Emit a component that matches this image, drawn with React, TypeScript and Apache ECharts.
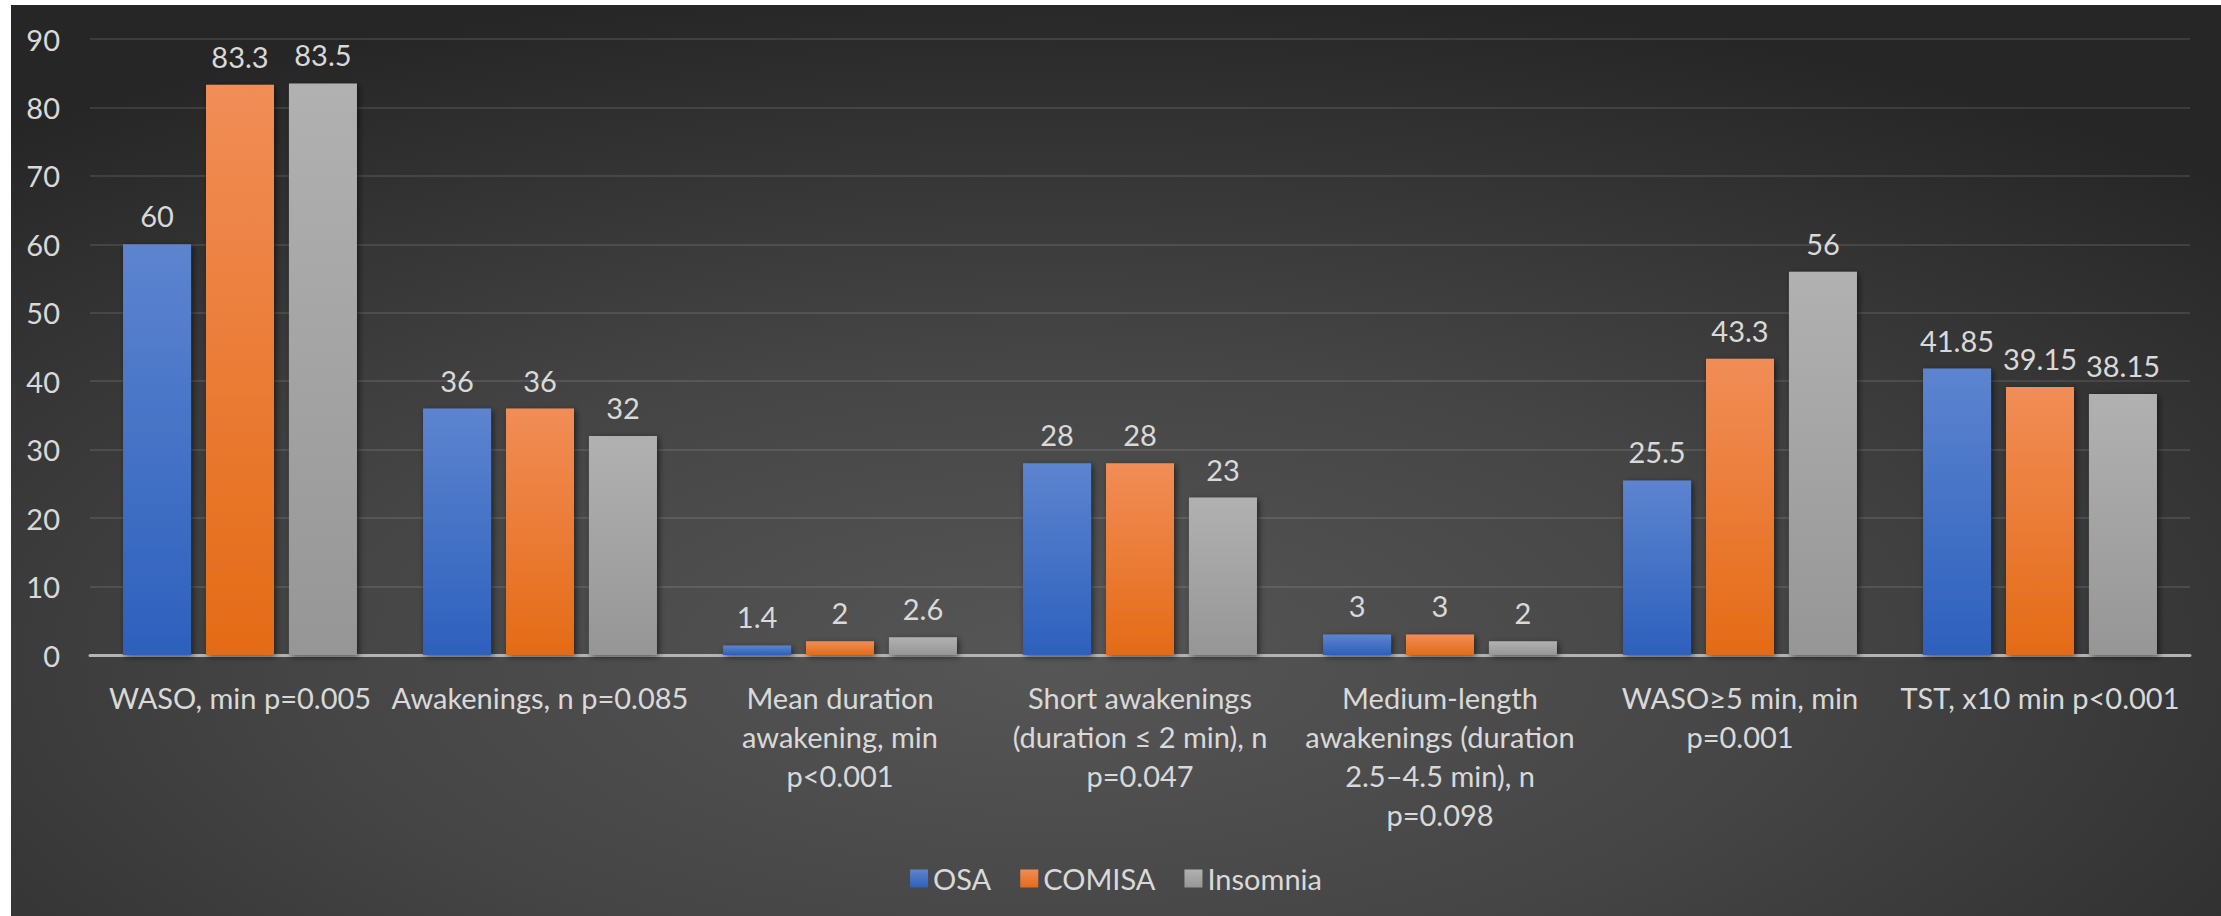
import React, { useEffect, useRef } from "react";
import * as echarts from "echarts";

// Sleep fragmentation measures by group
const categories: string[] = [
  "WASO, min p=0.005",
  "Awakenings, n p=0.085",
  "Mean duration\nawakening, min\np<0.001",
  "Short awakenings\n(duration ≤ 2 min), n\np=0.047",
  "Medium-length\nawakenings (duration\n2.5–4.5 min), n\np=0.098",
  "WASO≥5 min, min\np=0.001",
  "TST, x10 min p<0.001",
];

const osaValues: number[] = [60, 36, 1.4, 28, 3, 25.5, 41.85];
const comisaValues: number[] = [83.3, 36, 2, 28, 3, 43.3, 39.15];
const insomniaValues: number[] = [83.5, 32, 2.6, 23, 2, 56, 38.15];

const seriesNames: string[] = ["OSA", "COMISA", "Insomnia"];

const FONT = "Lato, 'Liberation Sans', sans-serif";
const TEXT_COLOR = "#d9d9d9";
const FONT_SIZE = 29;

const vGrad = (top: string, bottom: string) =>
  new echarts.graphic.LinearGradient(0, 0, 0, 1, [
    { offset: 0, color: top },
    { offset: 1, color: bottom },
  ]);

export default function App() {
  const ref = useRef<HTMLDivElement>(null);

  useEffect(() => {
    if (!ref.current) return;
    const chart = echarts.init(ref.current, null, { renderer: "svg" });

    const barStyle = (top: string, bottom: string) => ({
      color: vGrad(top, bottom),
      shadowBlur: 6,
      shadowColor: "rgba(0,0,0,0.55)",
      shadowOffsetX: 2,
      shadowOffsetY: 2,
    });

    const valueLabel = {
      show: true,
      position: "top" as const,
      distance: 14,
      color: TEXT_COLOR,
      fontFamily: FONT,
      fontSize: FONT_SIZE,
    };

    const makeSeries = (name: string, data: number[], top: string, bottom: string) => ({
      name,
      type: "bar" as const,
      data,
      barWidth: 68,
      barGap: "22%",
      itemStyle: barStyle(top, bottom),
      label: valueLabel,
    });

    chart.setOption({
      animation: false,
      backgroundColor: new echarts.graphic.RadialGradient(0.47, 0.72, 0.75, [
        { offset: 0, color: "#565656" },
        { offset: 0.45, color: "#454545" },
        { offset: 1, color: "#262626" },
      ]),
      textStyle: { fontFamily: FONT },
      grid: { left: 79, right: 31, top: 34, bottom: 261, containLabel: false },
      legend: {
        data: seriesNames,
        left: "center",
        top: 854,
        icon: "rect",
        itemWidth: 18,
        itemHeight: 18,
        itemGap: 29,
        textStyle: { color: TEXT_COLOR, fontSize: FONT_SIZE, fontFamily: FONT },
      },
      xAxis: {
        type: "category",
        data: categories,
        axisLine: { lineStyle: { color: "#b4b4b4", width: 3 } },
        axisTick: { show: false },
        axisLabel: {
          interval: 0,
          margin: 23,
          color: TEXT_COLOR,
          fontSize: FONT_SIZE,
          fontFamily: FONT,
          lineHeight: 39,
          align: "center",
        },
      },
      yAxis: {
        type: "value",
        min: 0,
        max: 90,
        interval: 10,
        axisLine: { show: false },
        axisTick: { show: false },
        axisLabel: {
          margin: 30,
          color: TEXT_COLOR,
          fontSize: FONT_SIZE,
          fontFamily: FONT,
        },
        splitLine: { lineStyle: { color: "rgba(255,255,255,0.1)", width: 2 } },
      },
      series: [
        makeSeries(seriesNames[0], osaValues, "#5d84cf", "#2d60bd"),
        makeSeries(seriesNames[1], comisaValues, "#f18d57", "#e46b16"),
        makeSeries(seriesNames[2], insomniaValues, "#b1b1b1", "#969696"),
      ],
    });

    return () => chart.dispose();
  }, []);

  return (
    <div
      ref={ref}
      style={{ position: "absolute", left: 11, top: 5, width: 2210, height: 911 }}
    />
  );
}
